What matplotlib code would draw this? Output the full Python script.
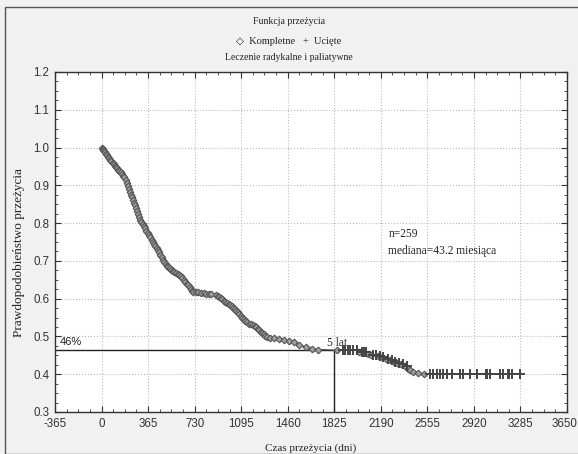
import matplotlib
matplotlib.use("Agg")
import matplotlib.pyplot as plt
from matplotlib.ticker import MultipleLocator

plt.rcParams['axes.unicode_minus'] = False

# survival curve (days, probability)
event_days = [0, 8, 15, 22, 30, 38, 46, 54, 62, 70, 78, 86, 95, 104, 113, 122, 131,
              140, 150, 160, 170, 180, 190, 198, 206, 214, 222, 230, 238, 246, 254,
              262, 270, 278, 286, 294, 302, 312, 322, 332, 342, 352, 362, 372, 382,
              392, 402, 412, 422, 432, 442, 452, 462, 472, 482, 492, 502, 512, 524,
              536, 548, 560, 572, 584, 596, 608, 620, 632, 644, 656, 668, 680, 690,
              700, 710, 720, 740, 760, 780, 800, 820, 840, 860, 900, 912, 924, 936,
              948, 960, 972, 984, 996, 1008, 1020, 1032, 1044, 1056, 1068, 1080,
              1092, 1104, 1116, 1128, 1140, 1155, 1170, 1185, 1200, 1212, 1224,
              1236, 1248, 1260, 1272, 1284, 1296, 1320, 1350, 1390, 1430, 1470,
              1510, 1550, 1600, 1650, 1700,
              1850, 2020, 2090, 2110, 2170, 2200, 2230, 2260, 2290, 2320, 2350,
              2380, 2400, 2420, 2440, 2480, 2530]
event_surv = [1.000, 0.997, 0.994, 0.991, 0.988, 0.984, 0.980, 0.976, 0.972, 0.968,
              0.964, 0.960, 0.956, 0.952, 0.948, 0.945, 0.941, 0.938, 0.934, 0.930,
              0.926, 0.921, 0.914, 0.906, 0.898, 0.890, 0.882, 0.875, 0.868, 0.861,
              0.854, 0.847, 0.840, 0.832, 0.824, 0.816, 0.809, 0.803, 0.798, 0.792,
              0.786, 0.780, 0.774, 0.768, 0.762, 0.755, 0.749, 0.744, 0.739, 0.734,
              0.729, 0.723, 0.716, 0.709, 0.702, 0.696, 0.691, 0.687, 0.683, 0.680,
              0.677, 0.674, 0.671, 0.668, 0.665, 0.662, 0.659, 0.655, 0.650, 0.645,
              0.640, 0.635, 0.630, 0.626, 0.621, 0.618, 0.617, 0.617, 0.616, 0.614,
              0.613, 0.612, 0.612, 0.610, 0.607, 0.604, 0.601, 0.598, 0.595, 0.592,
              0.589, 0.586, 0.583, 0.580, 0.576, 0.572, 0.568, 0.564, 0.560, 0.555,
              0.550, 0.545, 0.541, 0.537, 0.534, 0.532, 0.530, 0.528, 0.524, 0.520,
              0.516, 0.513, 0.510, 0.506, 0.502, 0.499, 0.497, 0.495, 0.492, 0.490,
              0.487, 0.484, 0.478, 0.472, 0.468, 0.465,
              0.463, 0.459, 0.453, 0.450, 0.447, 0.445, 0.440, 0.437, 0.433, 0.430,
              0.427, 0.422, 0.415, 0.410, 0.405, 0.402, 0.400]

# censored observations (days, probability)
cens_days = [1890, 1910, 1930, 1950, 1975, 2000, 2040, 2060, 2075, 2130, 2150,
             2185, 2210, 2250, 2275, 2300, 2335, 2365, 2395,
             2575, 2601, 2627, 2654, 2680, 2706, 2745, 2810, 2836, 2889, 2941,
             3015, 3025, 3046, 3124, 3150, 3185, 3195, 3216, 3281]
cens_surv = [0.463, 0.463, 0.463, 0.463, 0.463, 0.463, 0.459, 0.459, 0.459, 0.450, 0.450,
             0.447, 0.445, 0.440, 0.437, 0.433, 0.430, 0.427, 0.422,
             0.400, 0.400, 0.400, 0.400, 0.400, 0.400, 0.400, 0.400, 0.400, 0.400, 0.400,
             0.400, 0.400, 0.400, 0.400, 0.400, 0.400, 0.400, 0.400, 0.400]

x_ticks = [-365, 0, 365, 730, 1095, 1460, 1825, 2190, 2555, 2920, 3285, 3650]
five_years = 1825
surv_5y = 0.465

serif = ['Liberation Serif', 'DejaVu Sans']
sans = 'Liberation Sans'
txt = '#222222'

fig = plt.figure(figsize=(5.78, 4.54), dpi=100, facecolor='#f1f1f1')
fig.patches.append(plt.Rectangle((5 / 578, 0), 1, 1 - 7 / 454, transform=fig.transFigure,
                                 fill=False, edgecolor='#555555', lw=1.0))
ax = fig.add_axes([55 / 578, 1 - 412 / 454, 512 / 578, 340 / 454])
ax.set_facecolor('white')

# all points, joined in time order
all_pts = sorted(zip(event_days + cens_days, event_surv + cens_surv))
ax.plot([p[0] for p in all_pts], [p[1] for p in all_pts], color='#333333', lw=0.9, zorder=3)
ax.plot(event_days, event_surv, ls='none', marker='D', ms=3.4, mfc='#a0a0a0',
        mec='#555555', mew=0.8, zorder=4)
ax.plot(cens_days, cens_surv, ls='none', marker='+', ms=6.5, color='#444444', mew=1.4, zorder=4)

# 5-year guide lines
ax.plot([-365, five_years], [surv_5y, surv_5y], color='#222222', lw=1.0, zorder=2)
ax.plot([five_years, five_years], [0.3, surv_5y], color='#222222', lw=1.0, zorder=2)
ax.text(-325, 0.477, '46%', fontsize=8, family=sans, color=txt)
ax.text(five_years - 55, 0.476, '5 lat', fontsize=8.3, family=serif, color=txt)
ax.text(2250, 0.762, 'n=259', fontsize=8.3, family=serif, color=txt)
ax.text(2250, 0.717, 'mediana=43.2 miesiąca', fontsize=8.3, family=serif, color=txt)

ax.set_xlim(-365, 3650)
ax.set_ylim(0.3, 1.2)
# last label sits on the right edge, drawn separately a bit inside
ax.set_xticks(x_ticks, [str(t) for t in x_ticks[:-1]] + [''])
ax.annotate(str(x_ticks[-1]), xy=(x_ticks[-1], 0), xycoords=('data', 'axes fraction'),
            xytext=(-2, -4), textcoords='offset points', ha='center', va='top',
            fontsize=8.3, family=sans, color='#333333')
ax.xaxis.set_minor_locator(MultipleLocator(365 / 4))
ax.yaxis.set_major_locator(MultipleLocator(0.1))
ax.yaxis.set_minor_locator(MultipleLocator(0.025))
ax.tick_params(which='both', direction='in', top=True, right=True, color='#333333')
ax.tick_params(which='major', length=4, labelsize=8.3, labelcolor='#333333', pad=4)
ax.tick_params(which='minor', length=2)
for lab in ax.get_xticklabels() + ax.get_yticklabels():
    lab.set_family(sans)
ax.grid(True, which='major', color='#bbbbbb', ls=':', lw=0.8)
for s in ax.spines.values():
    s.set_color('#333333')
    s.set_linewidth(1.0)

ax.set_xlabel('Czas przeżycia (dni)', fontsize=8, family=serif, labelpad=10, color=txt)
ax.set_ylabel('Prawdopodobieństwo przeżycia', fontsize=9.5, family=serif, color=txt)
ax.yaxis.set_label_coords(-30 / 512, 0.47)

fig.text(289 / 578, 1 - 22 / 454, 'Funkcja przeżycia', ha='center', va='center',
         fontsize=7, family=serif, color=txt)
fig.text(289 / 578, 1 - 42 / 454, '◇  Kompletne   +  Ucięte', ha='center', va='center',
         fontsize=7.5, family=serif, color=txt)
fig.text(289 / 578, 1 - 58 / 454, 'Leczenie radykalne i paliatywne', ha='center', va='center',
         fontsize=7, family=serif, color=txt)

fig.savefig('out.png', dpi=100, facecolor=fig.get_facecolor())
